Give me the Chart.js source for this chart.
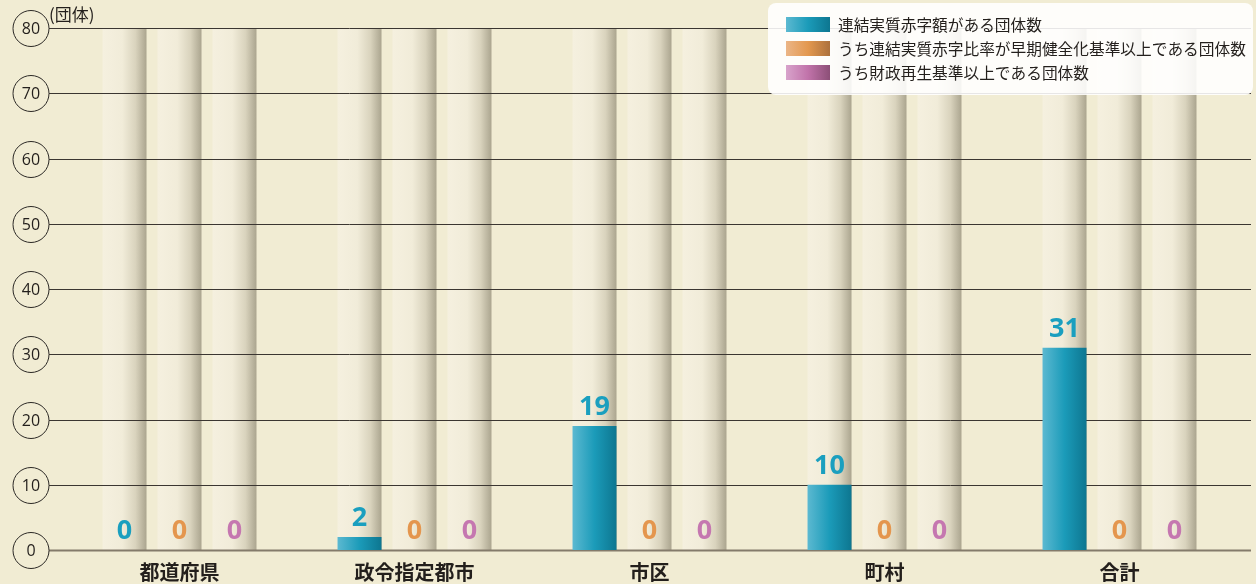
<!DOCTYPE html>
<html lang="ja">
<head>
<meta charset="utf-8">
<script src="https://cdn.jsdelivr.net/npm/chart.js@4/dist/chart.umd.min.js"></script>
<style>
  html, body { margin: 0; padding: 0; background: #f1ecd3; }
  #wrap { width: 1256px; height: 584px; position: relative; }
</style>
</head>
<body>
<div id="wrap"><canvas id="chart" width="1256" height="584"></canvas></div>
<script>
const categories = ["都道府県", "政令指定都市", "市区", "町村", "合計"];
const deficitCount = [0, 2, 19, 10, 31];
const earlyWarningCount = [0, 0, 0, 0, 0];
const rebuildCount = [0, 0, 0, 0, 0];
const seriesLabels = [
  "連結実質赤字額がある団体数",
  "うち連結実質赤字比率が早期健全化基準以上である団体数",
  "うち財政再生基準以上である団体数"
];
const yTicks = [0, 10, 20, 30, 40, 50, 60, 70, 80];
const unitLabel = "(団体)";

const jpFont = '"Noto Sans CJK JP", "Noto Sans", sans-serif';
const numFont = '"Open Sans", "Noto Sans", sans-serif';

// left, mid, right stops for each series, plus label colour
const palettes = [
  { stops: ["#5cb9d1", "#1b9bb9", "#0d7690"], text: "#1a9fbf" },
  { stops: ["#ebb586", "#e3984f", "#ac713d"], text: "#e4964e" },
  { stops: ["#d8a3cb", "#c173aa", "#8c4f77"], text: "#c577b0" }
];

function hGradient(ctx, x0, x1, stops) {
  const g = ctx.createLinearGradient(x0, 0, x1, 0);
  g.addColorStop(0, stops[0]);
  g.addColorStop(0.5, stops[1]);
  g.addColorStop(1, stops[2]);
  return g;
}

// cream pillars behind each bar and the horizontal rules
const backdrop = {
  id: "backdrop",
  beforeDraw(chart) {
    const { ctx, scales: { y } } = chart;
    const top = y.getPixelForValue(80);
    const bottom = y.getPixelForValue(0);
    ctx.save();
    chart.data.datasets.forEach((ds, di) => {
      chart.getDatasetMeta(di).data.forEach(el => {
        const x0 = el.x - el.width / 2;
        const x1 = el.x + el.width / 2;
        const g = ctx.createLinearGradient(x0, 0, x1, 0);
        g.addColorStop(0, "#f5f0df");
        g.addColorStop(0.45, "#f1ecd9");
        g.addColorStop(0.75, "#d9d3bd");
        g.addColorStop(1, "#aba58f");
        ctx.fillStyle = g;
        ctx.fillRect(x0, top, x1 - x0, bottom - top);
      });
    });

    yTicks.forEach(v => {
      const py = Math.round(y.getPixelForValue(v)) + 0.5;
      ctx.beginPath();
      ctx.moveTo(49, py);
      ctx.lineTo(1251, py);
      if (v === 0) {
        ctx.strokeStyle = "#847b6b";
        ctx.lineWidth = 2;
      } else {
        ctx.strokeStyle = "#3b3631";
        ctx.lineWidth = 1;
      }
      ctx.stroke();

      ctx.beginPath();
      ctx.arc(31, py, 18, 0, Math.PI * 2);
      ctx.fillStyle = "#f1ecd3";
      ctx.fill();
      ctx.strokeStyle = "#2b2825";
      ctx.lineWidth = 1;
      ctx.stroke();
      ctx.fillStyle = "#231f1c";
      ctx.font = "16px " + numFont;
      ctx.textAlign = "center";
      ctx.textBaseline = "middle";
      ctx.fillText(String(v), 31, py + 1);
    });

    ctx.font = "17px " + jpFont;
    ctx.textAlign = "left";
    ctx.textBaseline = "middle";
    ctx.fillStyle = "#231f1c";
    ctx.fillText(unitLabel, 49, 15);
    ctx.restore();
  },
  beforeDatasetsDraw(chart) {
    // each bar gets its own horizontal shading
    const ctx = chart.ctx;
    chart.data.datasets.forEach((ds, di) => {
      chart.getDatasetMeta(di).data.forEach(el => {
        el.options.backgroundColor = hGradient(ctx, el.x - el.width / 2, el.x + el.width / 2, palettes[di].stops);
      });
    });
  },
  afterDatasetsDraw(chart) {
    const { ctx, scales: { x } } = chart;
    ctx.save();
    ctx.textAlign = "center";
    ctx.textBaseline = "alphabetic";
    ctx.font = "bold 27px " + numFont;
    chart.data.datasets.forEach((ds, di) => {
      chart.getDatasetMeta(di).data.forEach((el, i) => {
        ctx.fillStyle = palettes[di].text;
        ctx.fillText(String(ds.data[i]), el.x, el.y - 11);
      });
    });

    ctx.font = "bold 20px " + jpFont;
    ctx.fillStyle = "#231f1c";
    ctx.textBaseline = "middle";
    categories.forEach((c, i) => {
      ctx.fillText(c, x.getPixelForValue(i), 572);
    });
    ctx.restore();
  },
  afterDraw(chart) {
    const ctx = chart.ctx;
    ctx.save();
    ctx.beginPath();
    ctx.roundRect(768, 3, 485, 92, 8);
    ctx.fillStyle = "rgba(255,255,255,0.88)";
    ctx.fill();
    seriesLabels.forEach((label, i) => {
      const cy = 24 + i * 24;
      ctx.fillStyle = hGradient(ctx, 786, 830, palettes[i].stops);
      ctx.fillRect(786, cy - 7, 44, 15);
      ctx.fillStyle = "#231f1c";
      ctx.font = "15.7px " + jpFont;
      ctx.textAlign = "left";
      ctx.textBaseline = "middle";
      ctx.fillText(label, 838, cy + 1);
    });
    ctx.restore();
  }
};

const seriesData = [deficitCount, earlyWarningCount, rebuildCount];

new Chart(document.getElementById("chart"), {
  type: "bar",
  data: {
    labels: categories,
    datasets: seriesData.map((d, i) => ({
      label: seriesLabels[i],
      data: d,
      // scriptable so every bar keeps its own options object
      backgroundColor: () => palettes[i].stops[1],
      borderWidth: 0,
      categoryPercentage: 0.702,
      barPercentage: 0.8
    }))
  },
  options: {
    responsive: false,
    animation: false,
    layout: { padding: { left: 62, right: 19, top: 28, bottom: 34 } },
    plugins: { legend: { display: false }, tooltip: { enabled: false } },
    scales: {
      x: { display: false },
      y: { display: false, min: 0, max: 80 }
    }
  },
  plugins: [backdrop]
});
</script>
</body>
</html>
